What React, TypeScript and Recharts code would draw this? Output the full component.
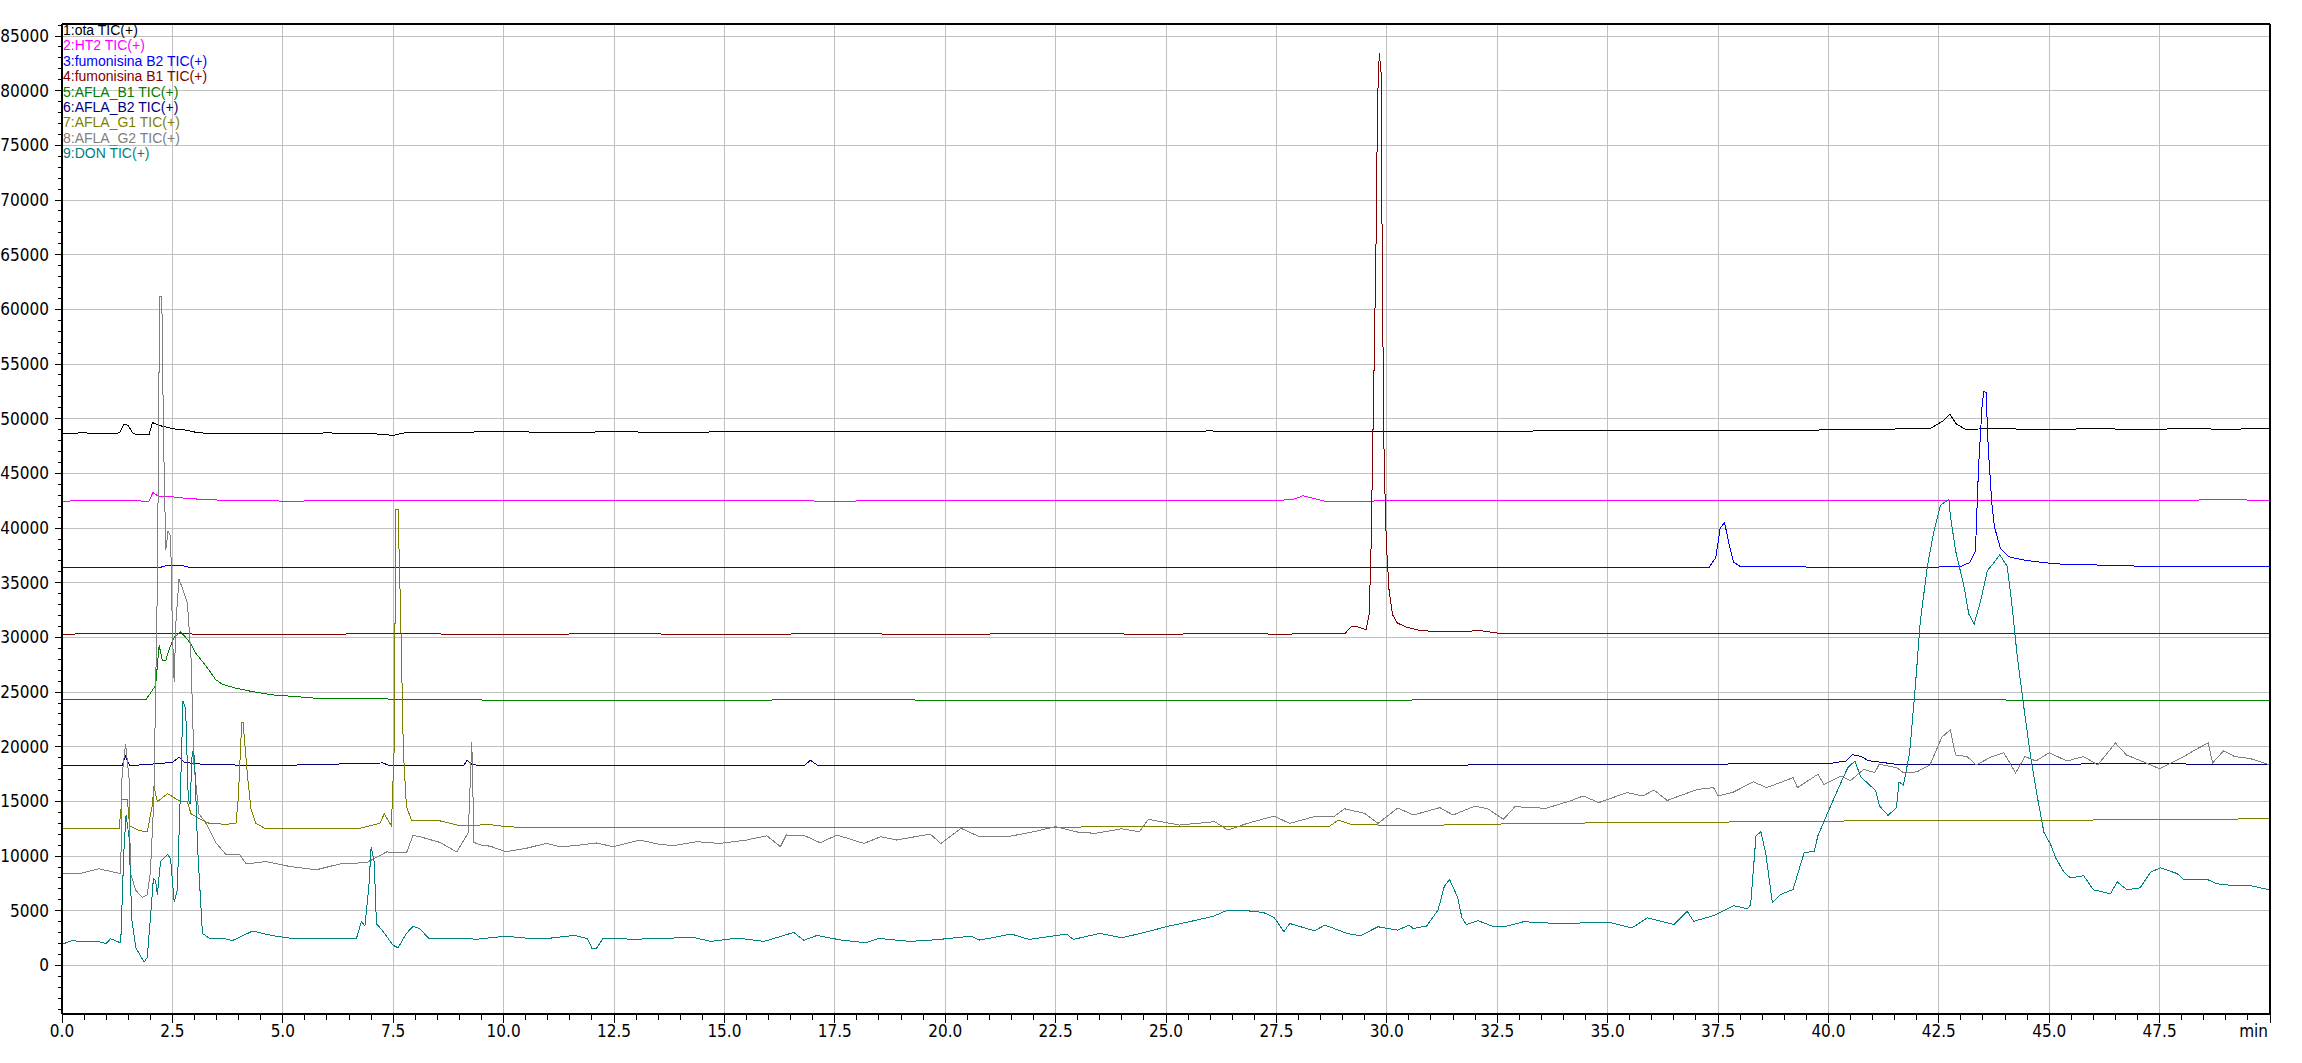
import { LineChart, Line, XAxis, YAxis, ReferenceLine } from 'recharts';

// [time (min), intensity] pairs
const ota: [number, number][] = [
  [0, 48680], [0.5, 48700], [1.0, 48650], [1.3, 48700], [1.4, 49470], [1.5, 49400], [1.6, 48700], [1.7, 48520],
  [1.97, 48520], [2.05, 49650], [2.2, 49380], [2.35, 49250], [2.5, 49080], [2.75, 49000], [3.1, 48700], [4.0, 48650],
  [5.0, 48640], [6.0, 48700], [7.0, 48650], [7.5, 48480], [7.8, 48750], [9.0, 48720], [9.7, 48860], [11, 48750],
  [12.5, 48800], [14, 48760], [15.5, 48820], [17, 48800], [18.5, 48850], [20, 48800], [22, 48850], [24, 48820],
  [26, 48880], [28, 48800], [29, 48850], [30, 48800], [31, 48820], [32.5, 48850], [34, 48900], [35.5, 48880],
  [37, 48950], [38.5, 48900], [40, 48980], [40.5, 49000], [41.5, 49060], [42.3, 49100], [42.6, 49800], [42.75, 50430],
  [42.9, 49500], [43.1, 49050], [44, 49080], [45, 49000], [46, 49100], [47, 49020], [48, 49080], [49, 49050], [50, 49080],
];

const ht2: [number, number][] = [
  [0, 42470], [1, 42500], [1.97, 42470], [2.06, 43250], [2.2, 42860], [2.5, 42860], [2.75, 42750], [3.3, 42580],
  [5, 42470], [7.5, 42500], [10, 42520], [12.5, 42480], [15, 42500], [17.5, 42470], [20, 42500], [22.5, 42480],
  [25, 42520], [27.5, 42500], [27.9, 42650], [28.1, 42950], [28.3, 42750], [28.6, 42460], [30, 42480], [32.5, 42500],
  [35, 42480], [37.5, 42520], [40, 42500], [42.5, 42530], [45, 42530], [47.5, 42520], [49, 42600], [50, 42530],
];

const fumB2: [number, number][] = [
  [0, 36380], [2.2, 36380], [2.4, 36600], [2.7, 36600], [2.9, 36380], [5, 36380], [7.5, 36400], [10, 36380],
  [12.5, 36400], [15, 36380], [17.5, 36390], [20, 36400], [22.5, 36380], [25, 36400], [27.5, 36380], [30, 36380],
  [32.5, 36400], [35, 36400], [37.3, 36420], [37.45, 37300], [37.55, 40000], [37.65, 40500], [37.75, 38500],
  [37.85, 36900], [38.0, 36500], [40, 36420], [42.5, 36440], [43.0, 36500], [43.2, 36840], [43.33, 37930],
  [43.4, 45540], [43.48, 51160], [43.52, 52500], [43.57, 52400], [43.62, 47350], [43.7, 42280], [43.76, 40100],
  [43.9, 38110], [44.08, 37380], [44.4, 37090], [44.88, 36840], [45.4, 36660], [46.5, 36600], [47.3, 36470], [50, 36470],
];

const fumB1: [number, number][] = [
  [0, 30300], [2.5, 30400], [3, 30300], [5, 30300], [7.5, 30320], [10, 30300], [12.5, 30320], [15, 30300],
  [17.5, 30320], [20, 30300], [22.5, 30330], [25, 30300], [26.7, 30350], [27.5, 30300], [29.05, 30350], [29.2, 31000],
  [29.35, 30950], [29.53, 30700], [29.6, 32080], [29.64, 37460], [29.68, 47080], [29.72, 56690], [29.76, 67080],
  [29.79, 79000], [29.83, 83420], [29.87, 81690], [29.9, 62460], [29.94, 45920], [29.99, 38610], [30.05, 34380],
  [30.13, 32080], [30.24, 31310], [30.46, 30920], [30.76, 30620], [31.4, 30500], [32.13, 30620], [32.5, 30400],
  [35, 30350], [37.5, 30350], [40, 30380], [42.5, 30350], [45, 30350], [47.5, 30380], [50, 30350],
];

const aflaB1: [number, number][] = [
  [0, 24300], [1.0, 24320], [1.9, 24300], [2.12, 25600], [2.2, 29290], [2.27, 27890], [2.35, 27890], [2.42, 28850],
  [2.54, 30000], [2.69, 30520], [2.8, 30000], [2.92, 29420], [3.03, 28550], [3.18, 27800], [3.33, 27010], [3.48, 26140],
  [3.64, 25700], [3.94, 25350], [4.32, 25040], [4.77, 24740], [5.23, 24610], [5.9, 24390], [7, 24380], [8.5, 24330],
  [10, 24250], [12.5, 24250], [15, 24230], [17.6, 24340], [20, 24250], [22.5, 24260], [25, 24250], [27.5, 24240],
  [30, 24260], [32.5, 24330], [35, 24320], [37.5, 24330], [40, 24320], [42.5, 24300], [45, 24260], [47.5, 24270], [50, 24260],
];

const aflaB2: [number, number][] = [
  [0, 18300], [1.36, 18300], [1.44, 19130], [1.53, 18270], [2.12, 18440], [2.5, 18570], [2.65, 19040], [2.77, 18570],
  [3.3, 18350], [5, 18300], [7.27, 18520], [7.4, 18300], [9.1, 18300], [9.17, 18780], [9.3, 18340], [10, 18270],
  [12.5, 18270], [15, 18270], [16.8, 18270], [16.95, 18760], [17.1, 18330], [20, 18270], [22.5, 18300], [25, 18270],
  [27.5, 18300], [30, 18280], [32.5, 18350], [35, 18400], [37.5, 18420], [40, 18450], [40.4, 18700], [40.55, 19280],
  [40.75, 19100], [40.9, 18730], [41.5, 18420], [45, 18420], [47.5, 18430], [50, 18400],
];

const aflaG1: [number, number][] = [
  [0, 12480], [1.29, 12480], [1.36, 15190], [1.48, 15190], [1.53, 12790], [1.74, 12350], [1.93, 12210], [2.05, 14750],
  [2.08, 16420], [2.16, 14970], [2.39, 15720], [2.65, 15060], [2.84, 14970], [2.92, 13880], [3.1, 13440], [3.33, 13000],
  [3.71, 12910], [3.94, 13000], [3.99, 15190], [4.07, 22200], [4.1, 22200], [4.2, 17380], [4.28, 14310], [4.39, 13000],
  [4.62, 12480], [5.53, 12570], [6.67, 12480], [7.2, 13000], [7.3, 13880], [7.39, 13220], [7.46, 12790], [7.52, 19570],
  [7.56, 41680], [7.61, 41680], [7.67, 31830], [7.73, 19570], [7.8, 14530], [7.92, 13220], [8.56, 13220], [9.0, 12790],
  [9.7, 12870], [10, 12720], [10.5, 12600], [11.7, 12660], [12.5, 12600], [13.5, 12660], [15, 12620], [16.5, 12600],
  [18, 12630], [20, 12600], [21.5, 12580], [23, 12660], [24.5, 12690], [26, 12690], [27.5, 12720], [28.7, 12720],
  [28.9, 13300], [29.2, 12900], [30.5, 12780], [32, 12900], [33, 12960], [35, 13050], [37.5, 13110], [40, 13200],
  [42.5, 13270], [45, 13270], [47.5, 13350], [50, 13410],
];

const aflaG2: [number, number][] = [
  [0, 8450], [0.4, 8400], [0.83, 8840], [1.1, 8600], [1.33, 8400], [1.36, 17380], [1.44, 20230], [1.52, 17000],
  [1.55, 8450], [1.67, 6870], [1.82, 6220], [1.93, 6440], [2.0, 8450], [2.08, 15190], [2.16, 34890], [2.21, 61160],
  [2.26, 61160], [2.3, 48030], [2.35, 37960], [2.4, 39710], [2.46, 39270], [2.5, 30510], [2.54, 25920], [2.58, 31400],
  [2.65, 35330], [2.73, 34450], [2.84, 33140], [2.92, 28320], [2.99, 18260], [3.1, 13880], [3.26, 13000], [3.48, 11250],
  [3.71, 10160], [4.02, 10160], [4.17, 9280], [4.62, 9500], [5.15, 9060], [5.76, 8750], [6.29, 9280], [6.9, 9410],
  [7.35, 10380], [7.8, 10290], [7.95, 11910], [8.18, 11690], [8.56, 11250], [8.94, 10380], [9.2, 12130], [9.28, 20450],
  [9.33, 11250], [9.47, 11030], [9.7, 10900], [10.05, 10400], [10.5, 10700], [10.96, 11160], [11.3, 10850],
  [11.72, 11010], [12.1, 11200], [12.48, 10860], [13.08, 11470], [13.5, 11100], [13.84, 10950], [14.37, 11320],
  [14.9, 11160], [15.5, 11470], [15.96, 11860], [16.27, 10860], [16.4, 11930], [16.8, 11900], [17.17, 11220],
  [17.55, 11930], [18.16, 11160], [18.54, 11770], [18.9, 11470], [19.66, 12020], [19.9, 11160], [20.36, 12540],
  [20.78, 11770], [21.4, 11770], [21.9, 12140], [22.5, 12690], [23.0, 12200], [23.4, 12080], [24.0, 12500],
  [24.4, 12230], [24.6, 13360], [25.3, 12840], [26.1, 13150], [26.4, 12380], [26.84, 12990], [27.45, 13660],
  [27.8, 12990], [28.35, 13600], [28.8, 13600], [29.04, 14330], [29.5, 13910], [29.8, 12990], [30.25, 14400],
  [30.6, 13760], [31.2, 14430], [31.5, 13760], [32.0, 14580], [32.3, 14300], [32.64, 13360], [32.9, 14520],
  [33.6, 14370], [34.15, 15040], [34.45, 15500], [34.8, 14890], [35.44, 15810], [35.8, 15500], [36.05, 16040],
  [36.35, 15090], [37.03, 16100], [37.4, 16260], [37.5, 15500], [37.86, 15870], [38.3, 16800], [38.6, 16260],
  [39.2, 17170], [39.3, 16260], [39.76, 17480], [39.9, 16560], [40.29, 17330], [40.5, 16900], [40.8, 17940],
  [41.05, 17630], [41.15, 18400], [41.56, 18060], [41.7, 17630], [42.0, 17700], [42.3, 18340], [42.57, 20880],
  [42.76, 21540], [42.88, 19250], [43.14, 19100], [43.35, 18340], [43.7, 19100], [43.97, 19460], [44.24, 17620],
  [44.45, 19100], [44.7, 18700], [45.0, 19460], [45.4, 18700], [45.78, 19100], [46.1, 18340], [46.5, 20340],
  [46.75, 19250], [47.3, 18340], [47.5, 17980], [48.05, 19100], [48.35, 19820], [48.6, 20340], [48.7, 18520],
  [48.95, 19640], [49.2, 19100], [49.55, 18920], [50, 18340],
];

const don: [number, number][] = [
  [0, 1930], [0.23, 2280], [0.5, 2150], [0.8, 2200], [1.0, 2000], [1.1, 2450], [1.33, 2060], [1.4, 10380],
  [1.45, 13750], [1.52, 11690], [1.58, 4250], [1.67, 1620], [1.86, 310], [1.93, 740], [2.0, 4250], [2.07, 7970],
  [2.12, 7750], [2.16, 6440], [2.23, 9500], [2.39, 10160], [2.46, 9720], [2.54, 5780], [2.61, 6870], [2.7, 18260],
  [2.74, 24170], [2.8, 23500], [2.86, 15190], [2.9, 14750], [2.95, 19570], [3.0, 19130], [3.07, 10810], [3.18, 2930],
  [3.33, 2500], [3.64, 2500], [3.86, 2280], [4.32, 3150], [4.77, 2720], [5.15, 2500], [5.9, 2500], [6.67, 2500],
  [6.78, 4030], [6.86, 3590], [6.95, 7310], [7.0, 10810], [7.07, 9500], [7.12, 3810], [7.2, 3460], [7.3, 2930],
  [7.5, 1840], [7.61, 1620], [7.8, 2930], [7.95, 3590], [8.1, 3370], [8.3, 2500], [8.94, 2500], [9.4, 2400],
  [10.05, 2680], [10.5, 2500], [11.0, 2470], [11.6, 2750], [11.9, 2450], [12.0, 1560], [12.1, 1560], [12.25, 2470],
  [13.0, 2400], [13.5, 2470], [14.3, 2560], [14.7, 2200], [15.3, 2500], [15.9, 2200], [16.57, 3020], [16.8, 2300],
  [17.1, 2750], [17.6, 2350], [18.2, 2070], [18.5, 2470], [19.2, 2200], [19.8, 2350], [20.58, 2680], [20.78, 2320],
  [21.5, 2870], [21.9, 2380], [22.75, 2870], [22.9, 2380], [23.5, 2930], [24.0, 2530], [24.57, 3080], [25.0, 3540],
  [25.63, 4090], [26.08, 4510], [26.4, 5060], [26.84, 5000], [27.2, 4850], [27.45, 4390], [27.67, 3080], [27.8, 3840],
  [28.05, 3540], [28.36, 3170], [28.6, 3690], [29.1, 2930], [29.4, 2710], [29.8, 3540], [30.25, 3230], [30.5, 3690],
  [30.6, 3380], [30.9, 3600], [31.16, 5060], [31.3, 7200], [31.42, 7870], [31.6, 6280], [31.7, 4390], [31.8, 3750],
  [32.07, 4090], [32.4, 3580], [32.7, 3580], [33.1, 4000], [33.6, 3890], [34.1, 3800], [34.6, 3950], [35.1, 3890],
  [35.55, 3430], [35.9, 4350], [36.5, 3740], [36.8, 4960], [36.95, 4040], [37.4, 4560], [37.86, 5470], [38.17, 5170],
  [38.24, 5560], [38.36, 11830], [38.47, 12230], [38.58, 10300], [38.7, 6640], [38.73, 5730], [38.92, 6490],
  [39.2, 6950], [39.45, 10300], [39.68, 10450], [39.76, 11830], [40.0, 14120], [40.3, 16870], [40.44, 18090],
  [40.6, 18700], [40.73, 17260], [41.07, 15990], [41.16, 14580], [41.35, 13720], [41.54, 14420], [41.6, 16780],
  [41.7, 16500], [41.84, 19460], [41.97, 25600], [42.08, 31400], [42.24, 36480], [42.39, 39740], [42.54, 42100],
  [42.73, 42640], [42.76, 41190], [42.88, 37930], [43.07, 34670], [43.18, 32130], [43.3, 31220], [43.44, 33210],
  [43.6, 36120], [43.75, 36840], [43.88, 37560], [44.05, 36480], [44.16, 32850], [44.27, 28500], [44.42, 23780],
  [44.58, 19070], [44.73, 15450], [44.88, 12180], [45.03, 11090], [45.15, 9820], [45.33, 8550], [45.48, 8010],
  [45.78, 8200], [46.0, 6920], [46.39, 6560], [46.54, 7650], [46.76, 6920], [47.06, 7100], [47.3, 8550], [47.52, 8920],
  [47.9, 8400], [48.05, 7830], [48.6, 7830], [48.8, 7470], [49.2, 7290], [49.56, 7290], [50, 6920],
];

const seriesNames = [
  '1:ota TIC(+)',
  '2:HT2 TIC(+)',
  '3:fumonisina B2 TIC(+)',
  '4:fumonisina B1 TIC(+)',
  '5:AFLA_B1 TIC(+)',
  '6:AFLA_B2 TIC(+)',
  '7:AFLA_G1 TIC(+)',
  '8:AFLA_G2 TIC(+)',
  '9:DON TIC(+)',
];
const seriesColors = ['#000000', '#ff00ff', '#0000ff', '#800000', '#008000', '#000080', '#808000', '#808080', '#008080'];
const seriesData = [ota, ht2, fumB2, fumB1, aflaB1, aflaB2, aflaG1, aflaG2, don];

const xMajorTicks = [0, 2.5, 5, 7.5, 10, 12.5, 15, 17.5, 20, 22.5, 25, 27.5, 30, 32.5, 35, 37.5, 40, 42.5, 45, 47.5, 50];
const yMajorTicks = [0, 5000, 10000, 15000, 20000, 25000, 30000, 35000, 40000, 45000, 50000, 55000, 60000, 65000, 70000, 75000, 80000, 85000];
const xAllTicks = Array.from({ length: 101 }, (_, i) => i * 0.5);
const yAllTicks = Array.from({ length: 91 }, (_, i) => -4000 + i * 1000);

const X_MAX = 50;
const Y_MIN = -4440;
const Y_MAX = 86100;

const AXIS_FONT = "'Liberation Sans Narrow', 'Arial Narrow', 'DejaVu Sans Condensed', sans-serif";
const X_TICK_SIZE = 9;
const X_TICK_MARGIN = 2;
const Y_TICK_SIZE = 7;
const Y_TICK_MARGIN = 6;

function isMajorX(v: number) {
  return Math.abs(v / 2.5 - Math.round(v / 2.5)) < 1e-6;
}

function XTick(props: any) {
  const { x, y, payload } = props;
  const v = payload.value as number;
  const axisY = y - X_TICK_SIZE - X_TICK_MARGIN;
  const major = isMajorX(v);
  const last = v === X_MAX;
  return (
    <g>
      <line x1={x} x2={x} y1={axisY} y2={axisY + (major ? 9 : 6)} stroke="#000" strokeWidth={1} shapeRendering="crispEdges" />
      {major && (
        <text x={last ? x - 2 : x} y={y} dy="0.71em" textAnchor={last ? 'end' : 'middle'} fontSize={17} fontFamily={AXIS_FONT} fill="#000">
          {last ? 'min' : v.toFixed(1)}
        </text>
      )}
    </g>
  );
}

function YTick(props: any) {
  const { x, y, payload } = props;
  const v = payload.value as number;
  const axisX = x + Y_TICK_SIZE + Y_TICK_MARGIN;
  const major = v >= 0 && v % 5000 === 0;
  return (
    <g>
      <line x1={axisX - (major ? 7 : 4)} x2={axisX} y1={y} y2={y} stroke="#000" strokeWidth={1} shapeRendering="crispEdges" />
      {major && (
        <text x={x} y={y} dy="0.355em" textAnchor="end" fontSize={17} fontFamily={AXIS_FONT} fill="#000">
          {v}
        </text>
      )}
    </g>
  );
}

export default function App() {
  const lines = seriesData.map((pts) => pts.map(([t, v]) => ({ t, v })));

  return (
    <div style={{ position: 'absolute', left: 0, top: 0, width: 2302, height: 1063, background: '#fff' }}>
      <LineChart width={2302} height={1063} margin={{ top: 24, right: 32, bottom: 19, left: 7 }}>
        <XAxis
          dataKey="t"
          type="number"
          domain={[0, X_MAX]}
          allowDataOverflow
          ticks={xAllTicks}
          interval={0}
          height={30}
          tickSize={X_TICK_SIZE}
          tickMargin={X_TICK_MARGIN}
          tickLine={false}
          axisLine={{ stroke: '#000', strokeWidth: 2 }}
          tick={XTick}
        />
        <YAxis
          type="number"
          domain={[Y_MIN, Y_MAX]}
          allowDataOverflow
          ticks={yAllTicks}
          interval={0}
          width={55}
          tickSize={Y_TICK_SIZE}
          tickMargin={Y_TICK_MARGIN}
          tickLine={false}
          axisLine={{ stroke: '#000', strokeWidth: 2 }}
          tick={YTick}
        />
        {xMajorTicks
          .filter((t) => t > 0 && t < X_MAX)
          .map((t) => (
            <ReferenceLine key={'gx' + t} x={t} stroke="#c0c0c0" strokeWidth={1} shapeRendering="crispEdges" />
          ))}
        {yMajorTicks.map((v) => (
          <ReferenceLine key={'gy' + v} y={v} stroke="#c0c0c0" strokeWidth={1} shapeRendering="crispEdges" />
        ))}
        {lines.map((d, i) => (
          <Line
            key={seriesNames[i]}
            data={d}
            dataKey="v"
            name={seriesNames[i]}
            type="linear"
            stroke={seriesColors[i]}
            strokeWidth={1}
            shapeRendering="crispEdges"
            dot={false}
            activeDot={false}
            isAnimationActive={false}
          />
        ))}
        <ReferenceLine y={Y_MAX} stroke="#000" strokeWidth={2} />
        <ReferenceLine x={X_MAX} stroke="#000" strokeWidth={2} />
      </LineChart>
      <div
        style={{
          position: 'absolute',
          left: 63,
          top: 23,
          fontFamily: "'Liberation Sans', Arial, sans-serif",
          fontSize: 14,
          lineHeight: '15.4px',
          pointerEvents: 'none',
        }}
      >
        {seriesNames.map((n, i) => (
          <div key={n} style={{ color: seriesColors[i], whiteSpace: 'pre' }}>
            {n}
          </div>
        ))}
      </div>
    </div>
  );
}
